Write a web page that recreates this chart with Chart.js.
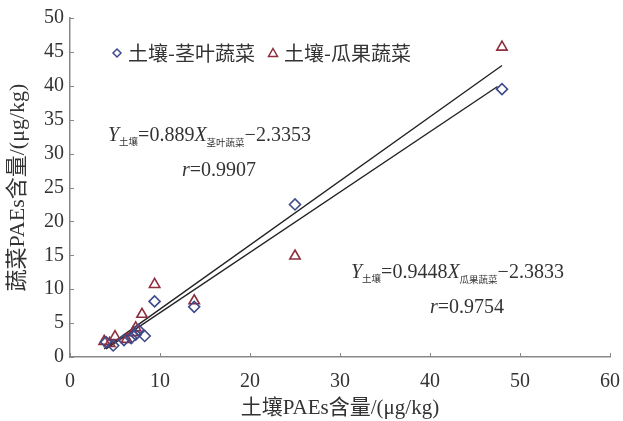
<!DOCTYPE html>
<html>
<head>
<meta charset="utf-8">
<script src="https://cdn.jsdelivr.net/npm/chart.js@4.4.1/dist/chart.umd.min.js"></script>
<style>
  html, body { margin: 0; padding: 0; background: #fff; }
  #wrap { width: 623px; height: 421px; position: relative; }
</style>
</head>
<body>
<div id="wrap"><canvas id="chart"></canvas></div>
<script>
// values (soil PAEs vs vegetable PAEs, ug/kg)
const soilLeaf  = [4.0, 4.8, 6.0, 6.8, 7.3, 7.6, 8.3, 9.4, 13.8, 25.0, 48.0];
const vegLeaf   = [2.2, 1.7, 2.5, 2.8, 3.3, 4.0, 3.1, 8.2, 7.4, 22.5, 39.5];
const soilFruit = [3.8, 4.4, 5.0, 6.3, 7.0, 7.3, 8.0, 9.4, 13.8, 25.0, 48.0];
const vegFruit  = [2.3, 2.0, 3.0, 2.6, 3.6, 4.3, 6.3, 10.7, 8.3, 14.9, 45.7];

// fitted line end points as drawn
const leafFitX  = [4.0, 47.5];
const leafFitY  = [1.2, 39.9];
const fruitFitX = [3.8, 48.0];
const fruitFitY = [1.2, 43.0];

const xTicks = [0, 10, 20, 30, 40, 50, 60];
const yTicks = [0, 5, 10, 15, 20, 25, 30, 35, 40, 45, 50];

const seriesNames = ['土壤-茎叶蔬菜', '土壤-瓜果蔬菜'];

const serif = '"Liberation Serif", "Noto Sans CJK SC", serif';
const leafColor = '#3f4a8a';
const fruitColor = '#8e2e3e';

function toPoints(xs, ys) {
  return xs.map((x, i) => ({ x: x, y: ys[i] }));
}

// small inward tick marks on both axes
const innerTicks = {
  id: 'innerTicks',
  afterDraw(chart) {
    const ctx = chart.ctx;
    const xs = chart.scales.x, ys = chart.scales.y;
    const area = chart.chartArea;
    ctx.save();
    ctx.strokeStyle = '#888';
    ctx.lineWidth = 1;
    xTicks.forEach(v => {
      const px = Math.round(xs.getPixelForValue(v)) + 0.5;
      ctx.beginPath();
      ctx.moveTo(px, area.bottom);
      ctx.lineTo(px, area.bottom - 4);
      ctx.stroke();
    });
    yTicks.forEach(v => {
      const py = Math.round(ys.getPixelForValue(v)) + 0.5;
      ctx.beginPath();
      ctx.moveTo(area.left, py);
      ctx.lineTo(area.left + 4, py);
      ctx.stroke();
    });
    ctx.restore();
  }
};

// legend and regression equations
function drawEq(ctx, x, y, parts) {
  let cx = x;
  parts.forEach(p => {
    ctx.font = p[2];
    ctx.fillText(p[0], cx, y + (p[1] || 0));
    cx += ctx.measureText(p[0]).width;
  });
}

const annotations = {
  id: 'annotations',
  afterDraw(chart) {
    const ctx = chart.ctx;
    ctx.save();
    ctx.fillStyle = '#333';
    ctx.textBaseline = 'middle';

    // legend
    ctx.lineWidth = 1.5;
    ctx.strokeStyle = leafColor;
    ctx.beginPath();
    ctx.moveTo(117, 49); ctx.lineTo(121, 53); ctx.lineTo(117, 57); ctx.lineTo(113, 53); ctx.closePath();
    ctx.stroke();
    ctx.font = '20px "Noto Sans CJK SC", sans-serif';
    ctx.fillText(seriesNames[0], 128, 53);
    ctx.strokeStyle = fruitColor;
    ctx.beginPath();
    ctx.moveTo(273, 48.5); ctx.lineTo(277.5, 56.5); ctx.lineTo(268.5, 56.5); ctx.closePath();
    ctx.stroke();
    ctx.fillText(seriesNames[1], 284, 53);

    ctx.textBaseline = 'alphabetic';
    const big = '20px ' + serif;
    const ital = 'italic 20px ' + serif;
    const sub = '9.5px "Noto Sans CJK SC", sans-serif';
    drawEq(ctx, 108, 141, [
      ['Y', 0, ital], ['土壤', 4, sub], ['=0.889', 0, big], ['X', 0, ital],
      ['茎叶蔬菜', 5, sub], ['\u22122.3353', 0, big]
    ]);
    drawEq(ctx, 182, 176, [['r', 0, ital], ['=0.9907', 0, big]]);
    drawEq(ctx, 351, 278, [
      ['Y', 0, ital], ['土壤', 4, sub], ['=0.9448', 0, big], ['X', 0, ital],
      ['瓜果蔬菜', 5, sub], ['\u22122.3833', 0, big]
    ]);
    drawEq(ctx, 430, 313, [['r', 0, ital], ['=0.9754', 0, big]]);
    ctx.restore();
  }
};

const ctx = document.getElementById('chart').getContext('2d');
const chart = new Chart(ctx, {
  type: 'scatter',
  data: {
    datasets: [
      {
        label: seriesNames[0],
        data: toPoints(soilLeaf, vegLeaf),
        pointStyle: 'rectRot',
        pointRadius: 5.5,
        borderColor: leafColor,
        backgroundColor: 'rgba(0,0,0,0)',
        borderWidth: 1.6
      },
      {
        label: seriesNames[1],
        data: toPoints(soilFruit, vegFruit),
        pointStyle: 'triangle',
        pointRadius: 6,
        borderColor: fruitColor,
        backgroundColor: 'rgba(0,0,0,0)',
        borderWidth: 1.6
      },
      {
        label: 'fit1',
        data: toPoints(leafFitX, leafFitY),
        showLine: true,
        pointRadius: 0,
        borderColor: '#222',
        borderWidth: 1.4
      },
      {
        label: 'fit2',
        data: toPoints(fruitFitX, fruitFitY),
        showLine: true,
        pointRadius: 0,
        borderColor: '#222',
        borderWidth: 1.4
      }
    ]
  },
  options: {
    responsive: true,
    maintainAspectRatio: false,
    animation: false,
    layout: { padding: { top: 17, right: 0, left: 0, bottom: 0 } },
    plugins: {
      legend: { display: false },
      tooltip: { enabled: false }
    },
    scales: {
      x: {
        type: 'linear',
        min: 0,
        max: 60,
        afterBuildTicks: (s) => { s.ticks = xTicks.map(v => ({ value: v })); },
        afterFit: (s) => { s.height = 64; },
        grid: { display: false, drawTicks: true, tickLength: 10 },
        border: { display: true, color: '#888', width: 1.5 },
        ticks: { color: '#333', font: { family: serif, size: 20 }, padding: 3, maxRotation: 0 },
        title: {
          display: true,
          text: '土壤PAEs含量/(μg/kg)',
          color: '#333',
          font: { family: serif, size: 21 },
          padding: { top: 0, bottom: 0 }
        }
      },
      y: {
        type: 'linear',
        min: 0,
        max: 50,
        afterBuildTicks: (s) => { s.ticks = yTicks.map(v => ({ value: v })); },
        afterFit: (s) => { s.width = 70; },
        grid: { display: false, drawTicks: false },
        border: { display: true, color: '#888', width: 1.5 },
        ticks: { color: '#333', font: { family: serif, size: 20 }, padding: 6 },
        title: {
          display: true,
          text: '蔬菜PAEs含量/(μg/kg)',
          color: '#333',
          font: { family: serif, size: 22 },
          padding: { top: 5, bottom: 0 }
        }
      }
    }
  },
  plugins: [innerTicks, annotations]
});
</script>
</body>
</html>
